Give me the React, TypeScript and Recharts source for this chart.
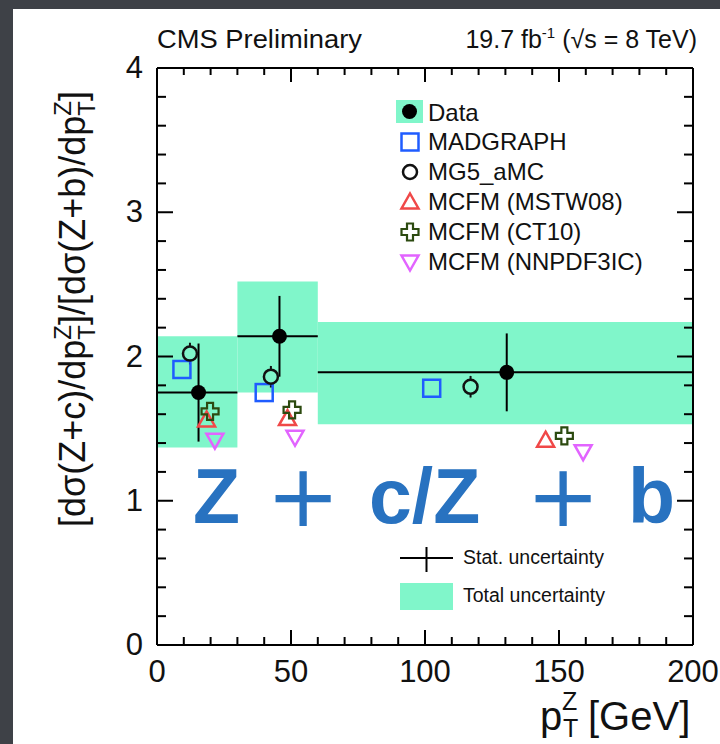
import { ScatterChart, Scatter, XAxis, YAxis, ErrorBar, ReferenceArea, Legend } from "recharts";

// bins of the measurement and the total-uncertainty band per bin
const binLow = [0, 30, 60];
const binHigh = [30, 60, 200];
const bandLow = [1.37, 1.75, 1.53];
const bandHigh = [2.14, 2.52, 2.24];

// data points with stat. uncertainty
const dataX = [15.5, 45.7, 130.5];
const dataY = [1.75, 2.14, 1.89];
const dataStat = [0.34, 0.28, 0.27];

// predictions
const madgraphX = [9.3, 40, 102.5];
const madgraphY = [1.91, 1.75, 1.78];
const mg5X = [12.3, 42.5, 117];
const mg5Y = [2.02, 1.86, 1.79];
const mg5Err = [0.075, 0.075, 0.075];
const mstwX = [18.5, 48.7, 145];
const mstwY = [1.56, 1.57, 1.42];
const ct10X = [19.8, 50.4, 152];
const ct10Y = [1.62, 1.63, 1.45];
const nnpdfX = [21.6, 51.5, 159];
const nnpdfY = [1.42, 1.44, 1.34];

const xTicks = Array.from({ length: 21 }, (_, i) => i * 10);
const yTicks = Array.from({ length: 21 }, (_, i) => i / 5);

const FONT = "'Liberation Sans', Arial, sans-serif";
const GREEN = "#80f6ca";
const BLUE = "#1f5cff";
const RED = "#f04848";
const DKGREEN = "#2c4a10";
const VIOLET = "#e264ff";
const INK = "#111";

const pts = (xs: number[], ys: number[]) => xs.map((x, i) => ({ x, y: ys[i] }));

const dataPoints = dataX.map((x, i) => ({
  x,
  y: dataY[i],
  ex: [x - binLow[i], binHigh[i] - x],
  ey: dataStat[i],
}));
const mg5Points = mg5X.map((x, i) => ({ x, y: mg5Y[i], ey: mg5Err[i] }));

// tick marks of the frame (inward, ROOT style), placed through the scales
const bottomTicks = xTicks.map((x) => ({ x, y: 0 }));
const topTicks = xTicks.map((x) => ({ x, y: 4 }));
const leftTicks = yTicks.map((y) => ({ x: 0, y }));
const rightTicks = yTicks.map((y) => ({ x: 200, y }));

const TickMark = (props: any) => {
  const { cx, cy, side } = props;
  const p = props.payload ?? props;
  if (cx == null || cy == null) return null;
  if (side === "bottom" || side === "top") {
    const major = p.x % 50 === 0;
    const len = side === "bottom" ? (major ? 15 : 8) : major ? 14 : 7;
    const d = side === "bottom" ? -len : len;
    return <path d={`M${cx},${cy}L${cx},${cy + d}`} stroke="#000" strokeWidth={2} fill="none" />;
  }
  const major = Number.isInteger(p.y);
  const len = major ? 16 : 9;
  const d = side === "left" ? len : -len;
  return <path d={`M${cx},${cy}L${cx + d},${cy}`} stroke="#000" strokeWidth={2} fill="none" />;
};

// marker shapes
const DataDot = ({ cx, cy }: any) => <circle cx={cx} cy={cy} r={7.5} fill="#000" />;
const OpenSquare = ({ cx, cy }: any) => (
  <rect x={cx - 8.5} y={cy - 8.5} width={17} height={17} fill="none" stroke={BLUE} strokeWidth={2.5} />
);
const OpenCircle = ({ cx, cy }: any) => (
  <circle cx={cx} cy={cy} r={7} fill="none" stroke={INK} strokeWidth={2.5} />
);
const TriUp = ({ cx, cy }: any) => (
  <polygon points={`${cx},${cy - 8.5} ${cx + 8.5},${cy + 6.5} ${cx - 8.5},${cy + 6.5}`} fill="none" stroke={RED} strokeWidth={2.5} />
);
const TriDown = ({ cx, cy }: any) => (
  <polygon points={`${cx - 8.5},${cy - 6.5} ${cx + 8.5},${cy - 6.5} ${cx},${cy + 8.5}`} fill="none" stroke={VIOLET} strokeWidth={2.5} />
);
const OpenCross = ({ cx, cy }: any) => {
  const a = 3, b = 8.5;
  const d = `M${cx - a},${cy - b} H${cx + a} V${cy - a} H${cx + b} V${cy + a} H${cx + a} V${cy + b} H${cx - a} V${cy + a} H${cx - b} V${cy - a} H${cx - a} Z`;
  return <path d={d} fill="none" stroke={DKGREEN} strokeWidth={2.2} />;
};

const models = [
  { name: "MADGRAPH", xs: madgraphX, ys: madgraphY, Shape: OpenSquare },
  { name: "MG5_aMC", xs: mg5X, ys: mg5Y, Shape: OpenCircle },
  { name: "MCFM (MSTW08)", xs: mstwX, ys: mstwY, Shape: TriUp },
  { name: "MCFM (CT10)", xs: ct10X, ys: ct10Y, Shape: OpenCross },
  { name: "MCFM (NNPDF3IC)", xs: nnpdfX, ys: nnpdfY, Shape: TriDown },
];

// axis labels only on the major ticks
const BottomLabel = ({ x, y, payload }: any) =>
  payload.value % 50 === 0 ? (
    <text x={x} y={y + 37} textAnchor="middle" fontSize={31} fontFamily={FONT} fill={INK}>
      {payload.value}
    </text>
  ) : null;
const LeftLabel = ({ x, y, payload }: any) =>
  Number.isInteger(payload.value) ? (
    <text x={x - 14} y={y + 10} textAnchor="end" fontSize={31} fontFamily={FONT} fill={INK}>
      {payload.value}
    </text>
  ) : null;

const frame = { stroke: "#000", strokeWidth: 2 };

const renderLegend = () => (
  <svg width={320} height={530} style={{ display: "block" }}>
    <rect x={16} y={10} width={27} height={23} fill={GREEN} />
    <DataDot cx={29.5} cy={21.5} />
    <text x={48} y={31} fontSize={24} fontFamily={FONT} fill={INK}>Data</text>
    {models.map((m, i) => (
      <g key={m.name}>
        <m.Shape cx={30} cy={52 + i * 30} />
        <text x={48} y={60 + i * 30} fontSize={24} fontFamily={FONT} fill={INK}>
          {m.name}
        </text>
      </g>
    ))}
    <line x1={20} x2={73} y1={468} y2={468} stroke="#000" strokeWidth={2} />
    <line x1={46.5} x2={46.5} y1={457} y2={482} stroke="#000" strokeWidth={2} />
    <text x={83} y={474} fontSize={19.5} fontFamily={FONT} fill={INK}>Stat. uncertainty</text>
    <rect x={20} y={493} width={53} height={27} fill={GREEN} />
    <text x={83} y={512} fontSize={19.5} fontFamily={FONT} fill={INK}>Total uncertainty</text>
  </svg>
);

export default function App() {
  return (
    <div style={{ position: "absolute", left: 0, top: 0, width: 720, height: 744, background: "#3e4147", overflow: "hidden" }}>
      <div style={{ position: "absolute", left: 13, top: 9, right: 0, bottom: 0, background: "#fff" }} />
      <div style={{ position: "absolute", left: 0, top: 0 }}>
        <ScatterChart width={720} height={744} margin={{ top: 67, right: 26, bottom: 0, left: 0 }}>
          <XAxis
            dataKey="x"
            type="number"
            domain={[0, 200]}
            ticks={xTicks}
            interval={0}
            height={99}
            tickSize={0}
            tickMargin={0}
            tickLine={false}
            tick={<BottomLabel />}
            axisLine={frame}
          />
          <XAxis
            xAxisId="top"
            orientation="top"
            type="number"
            domain={[0, 200]}
            allowDataOverflow
            height={1}
            tick={false}
            tickLine={false}
            axisLine={frame}
          />
          <YAxis
            dataKey="y"
            type="number"
            domain={[0, 4]}
            ticks={yTicks}
            interval={0}
            width={157}
            tickSize={0}
            tickMargin={0}
            tickLine={false}
            tick={<LeftLabel />}
            axisLine={frame}
          />
          <YAxis
            yAxisId="right"
            orientation="right"
            type="number"
            domain={[0, 4]}
            allowDataOverflow
            width={1}
            tick={false}
            tickLine={false}
            axisLine={frame}
          />
          {binLow.map((lo, i) => (
            <ReferenceArea
              key={i}
              x1={lo}
              x2={binHigh[i]}
              y1={bandLow[i]}
              y2={bandHigh[i]}
              fill={GREEN}
              fillOpacity={1}
              stroke="none"
            />
          ))}
          <Scatter name="Data" data={dataPoints} shape={<DataDot />} isAnimationActive={false}>
            <ErrorBar dataKey="ex" direction="x" width={0} stroke="#000" strokeWidth={2} />
            <ErrorBar dataKey="ey" direction="y" width={0} stroke="#000" strokeWidth={2} />
          </Scatter>
          {models.map((m) =>
            m.name === "MG5_aMC" ? (
              <Scatter key={m.name} name={m.name} data={mg5Points} shape={<m.Shape />} isAnimationActive={false}>
                <ErrorBar dataKey="ey" direction="y" width={0} stroke={INK} strokeWidth={2} strokeDasharray="3.8 14 3.8" />
              </Scatter>
            ) : (
              <Scatter key={m.name} name={m.name} data={pts(m.xs, m.ys)} shape={<m.Shape />} isAnimationActive={false} />
            )
          )}
          <Scatter data={bottomTicks} shape={<TickMark side="bottom" />} legendType="none" isAnimationActive={false} />
          <Scatter data={topTicks} shape={<TickMark side="top" />} legendType="none" isAnimationActive={false} />
          <Scatter data={leftTicks} shape={<TickMark side="left" />} legendType="none" isAnimationActive={false} />
          <Scatter data={rightTicks} shape={<TickMark side="right" />} legendType="none" isAnimationActive={false} />
          <Legend
            layout="horizontal"
            verticalAlign="middle"
            align="center"
            content={renderLegend}
            wrapperStyle={{ left: 380, top: 90, width: 320, height: 530 }}
          />
        </ScatterChart>
      </div>
      <svg width={720} height={744} style={{ position: "absolute", left: 0, top: 0, pointerEvents: "none" }}>
        <text x={157} y={48} fontSize={25} fontFamily={FONT} fill={INK} textLength={205} lengthAdjust="spacingAndGlyphs">
          CMS Preliminary
        </text>
        <text x={697} y={48} fontSize={25} fontFamily={FONT} fill={INK} textAnchor="end">
          19.7 fb<tspan fontSize={15} dy={-10}>-1</tspan>
          <tspan dy={10}> (√s = 8 TeV)</tspan>
        </text>
        <text transform="translate(85,309) rotate(-90)" textAnchor="middle" fontSize={36} fontFamily={FONT} fill={INK}>
          [dσ(Z+c)/dp<tspan fontSize={24} dy={-14}>Z</tspan>
          <tspan fontSize={24} dx={-14.7} dy={24}>T</tspan>
          <tspan dy={-10}>]/[dσ(Z+b)/dp</tspan>
          <tspan fontSize={24} dy={-14}>Z</tspan>
          <tspan fontSize={24} dx={-14.7} dy={24}>T</tspan>
          <tspan dy={-10}>]</tspan>
        </text>
        <text x={540} y={730} fontSize={40} fontFamily={FONT} fill={INK}>p</text>
        <text x={562} y={710} fontSize={25} fontFamily={FONT} fill={INK}>Z</text>
        <text x={563} y={737} fontSize={25} fontFamily={FONT} fill={INK}>T</text>
        <text x={588} y={730} fontSize={40} fontFamily={FONT} fill={INK}>[GeV]</text>
        <g fill="#2872c0">
          <text x={193} y={523} fontSize={77} fontWeight="bold" fontFamily={FONT}>Z</text>
          <text x={303} y={526} fontSize={88} fontFamily="'DejaVu Sans', sans-serif" textAnchor="middle">+</text>
          <text x={369} y={523} fontSize={77} fontWeight="bold" fontFamily={FONT}>c/Z</text>
          <text x={563} y={526} fontSize={88} fontFamily="'DejaVu Sans', sans-serif" textAnchor="middle">+</text>
          <text x={628} y={523} fontSize={77} fontWeight="bold" fontFamily={FONT}>b</text>
        </g>
      </svg>
    </div>
  );
}
